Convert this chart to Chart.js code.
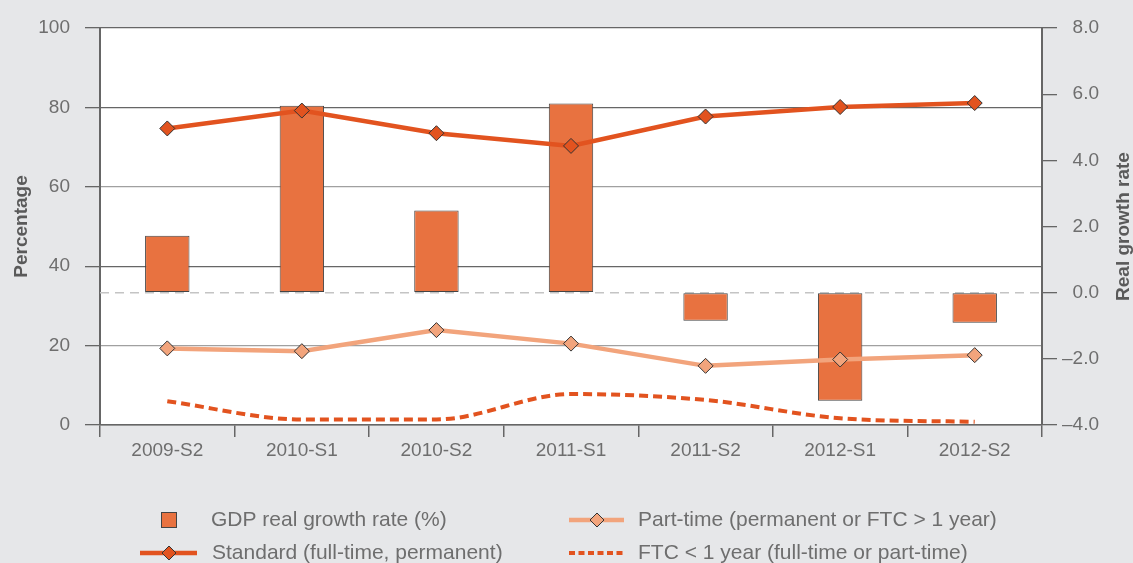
<!DOCTYPE html>
<html>
<head>
<meta charset="utf-8">
<script src="https://cdn.jsdelivr.net/npm/chart.js@4"></script>
<style>
    html, body { margin: 0; padding: 0; background: #e6e7e9; }
    #wrap { width: 1133px; height: 563px; }
</style>
</head>
<body>
<div id="wrap"><canvas id="chart" width="1133" height="563"></canvas></div>
<script>
// data
const periods = ['2009-S2', '2010-S1', '2010-S2', '2011-S1', '2011-S2', '2012-S1', '2012-S2'];
const gdpGrowth = [1.72, 5.65, 2.48, 5.72, -0.85, -3.27, -0.91];
const standard = [74.7, 79.2, 73.5, 70.3, 77.7, 80.1, 81.1];
const partTime = [19.3, 18.6, 23.9, 20.5, 14.9, 16.5, 17.6];
const ftcShort = [6.0, 1.4, 1.4, 7.8, 6.3, 1.7, 0.8];
const pctTicks = [0, 20, 40, 60, 80, 100];
const growthTicks = [-4, -2, 0, 2, 4, 6, 8];

const labelGdp = 'GDP real growth rate (%)';
const labelStandard = 'Standard (full-time, permanent)';
const labelPart = 'Part-time (permanent or FTC > 1 year)';
const labelFtc = 'FTC < 1 year (full-time or part-time)';

// colours
const BAR = '#e87240';
const RED = '#e2531f';
const PEACH = '#f2a47c';
const AXIS = '#666666';
const TEXT = '#6e6e6e';
const FONT = '"Liberation Sans", Arial, sans-serif';

// grey page, white plot and the dashed zero line
const backdrop = {
    id: 'backdrop',
    beforeDraw(chart) {
        const { ctx, chartArea: a } = chart;
        ctx.save();
        ctx.fillStyle = '#e6e7e9';
        ctx.fillRect(0, 0, chart.width, chart.height);
        ctx.fillStyle = '#ffffff';
        ctx.fillRect(a.left, a.top, a.right - a.left, a.bottom - a.top);
        ctx.restore();
    },
    beforeDatasetsDraw(chart) {
        const { ctx, chartArea: a } = chart;
        const y0 = chart.scales.y1.getPixelForValue(0);
        ctx.save();
        ctx.strokeStyle = '#c4c4c4';
        ctx.lineWidth = 1.5;
        ctx.setLineDash([9, 6]);
        ctx.beginPath();
        ctx.moveTo(a.left, y0);
        ctx.lineTo(a.right, y0);
        ctx.stroke();
        ctx.restore();
    }
};

function diamond(ctx, x, y, r, fill) {
    ctx.beginPath();
    ctx.moveTo(x - r, y);
    ctx.lineTo(x, y - r);
    ctx.lineTo(x + r, y);
    ctx.lineTo(x, y + r);
    ctx.closePath();
    ctx.fillStyle = fill;
    ctx.fill();
    ctx.lineWidth = 1;
    ctx.strokeStyle = '#333';
    ctx.stroke();
}

// right axis title and the two-column legend
const extras = {
    id: 'extras',
    afterDraw(chart) {
        const { ctx, chartArea: a } = chart;
        ctx.save();

        // right axis title, reads bottom to top
        ctx.translate(1124, (a.top + a.bottom) / 2);
        ctx.rotate(-Math.PI / 2);
        ctx.font = 'bold 19px ' + FONT;
        ctx.fillStyle = '#5a5a5a';
        ctx.textAlign = 'center';
        ctx.textBaseline = 'middle';
        ctx.fillText('Real growth rate', 0, 0);
        ctx.restore();

        ctx.save();
        ctx.font = '21px ' + FONT;
        ctx.textBaseline = 'middle';
        const r1 = 520, r2 = 553;

        // GDP bar
        ctx.fillStyle = BAR;
        ctx.fillRect(161, 512, 15, 15);
        ctx.strokeStyle = '#444';
        ctx.lineWidth = 1;
        ctx.strokeRect(161.5, 512.5, 15, 15);

        // standard line
        ctx.strokeStyle = RED;
        ctx.lineWidth = 4.5;
        ctx.beginPath(); ctx.moveTo(140, r2); ctx.lineTo(197, r2); ctx.stroke();
        diamond(ctx, 169, r2, 7, RED);

        // part-time line
        ctx.strokeStyle = PEACH;
        ctx.lineWidth = 4.5;
        ctx.beginPath(); ctx.moveTo(569, r1); ctx.lineTo(624, r1); ctx.stroke();
        diamond(ctx, 597, r1, 7, PEACH);

        // ftc dashed
        ctx.strokeStyle = RED;
        ctx.lineWidth = 4;
        ctx.setLineDash([6, 3.5]);
        ctx.beginPath(); ctx.moveTo(569, r2); ctx.lineTo(624, r2); ctx.stroke();
        ctx.setLineDash([]);

        ctx.fillStyle = TEXT;
        ctx.fillText(labelGdp, 211, r1);
        ctx.fillText(labelStandard, 212, r2);
        ctx.fillText(labelPart, 638, r1);
        ctx.fillText(labelFtc, 638, r2);
        ctx.restore();
    }
};

Chart.defaults.font.family = FONT;
Chart.defaults.color = TEXT;

new Chart(document.getElementById('chart'), {
    type: 'bar',
    data: {
        labels: periods,
        datasets: [
            {
                type: 'line',
                label: labelStandard,
                data: standard,
                yAxisID: 'y',
                borderColor: RED,
                borderWidth: 4.5,
                pointStyle: 'rectRot',
                pointRadius: 7.5,
                pointBackgroundColor: RED,
                pointBorderColor: '#333',
                pointBorderWidth: 1,
                tension: 0,
                order: 0
            },
            {
                type: 'line',
                label: labelPart,
                data: partTime,
                yAxisID: 'y',
                borderColor: PEACH,
                borderWidth: 4.5,
                pointStyle: 'rectRot',
                pointRadius: 7.5,
                pointBackgroundColor: PEACH,
                pointBorderColor: '#333',
                pointBorderWidth: 1,
                tension: 0,
                order: 0
            },
            {
                type: 'line',
                label: labelFtc,
                data: ftcShort,
                yAxisID: 'y',
                borderColor: RED,
                borderWidth: 4,
                borderDash: [9, 5],
                borderCapStyle: 'butt',
                pointRadius: 0,
                cubicInterpolationMode: 'monotone',
                order: 0
            },
            {
                label: labelGdp,
                data: gdpGrowth,
                yAxisID: 'y1',
                backgroundColor: BAR,
                borderColor: '#444',
                borderWidth: 1,
                borderSkipped: false,
                categoryPercentage: 1,
                barPercentage: 0.33,
                order: 1
            }
        ]
    },
    options: {
        responsive: false,
        animation: false,
        layout: { padding: { top: 28, left: 0, right: 34, bottom: 0 } },
        plugins: {
            legend: { display: false },
            tooltip: { enabled: false }
        },
        scales: {
            x: {
                afterFit: s => { s.height = 138; },
                grid: {
                    offset: true,
                    drawOnChartArea: false,
                    tickLength: 12,
                    color: AXIS,
                    lineWidth: 1.5
                },
                border: { color: AXIS, width: 1.5 },
                ticks: { font: { size: 19 }, color: TEXT, padding: 2 }
            },
            y: {
                position: 'left',
                min: 0,
                max: 100,
                afterFit: s => { s.width = 100; },
                afterBuildTicks: s => { s.ticks = pctTicks.map(v => ({ value: v })); },
                grid: {
                    tickLength: 15,
                    lineWidth: 1.3,
                    color: c => (c.tick && (c.tick.value === 60 || c.tick.value === 20)) ? '#a0a0a0' : AXIS,
                    tickColor: AXIS
                },
                border: { color: AXIS, width: 2 },
                ticks: { font: { size: 19 }, color: TEXT, padding: 15 },
                title: {
                    display: true,
                    text: 'Percentage',
                    font: { size: 19, weight: 'bold' },
                    color: '#5a5a5a',
                    padding: { top: 10 }
                }
            },
            y1: {
                position: 'right',
                min: -4,
                max: 8,
                afterFit: s => { s.width = 57; },
                afterBuildTicks: s => { s.ticks = growthTicks.map(v => ({ value: v })); },
                grid: {
                    drawOnChartArea: false,
                    tickLength: 15,
                    lineWidth: 1.3,
                    color: AXIS
                },
                border: { color: AXIS, width: 2 },
                ticks: {
                    font: { size: 19 },
                    color: TEXT,
                    padding: 5,
                    crossAlign: 'far',
                    callback: v => (v < 0 ? '\u2013' : '') + Math.abs(v).toFixed(1)
                }
            }
        }
    },
    plugins: [backdrop, extras]
});
</script>
</body>
</html>
